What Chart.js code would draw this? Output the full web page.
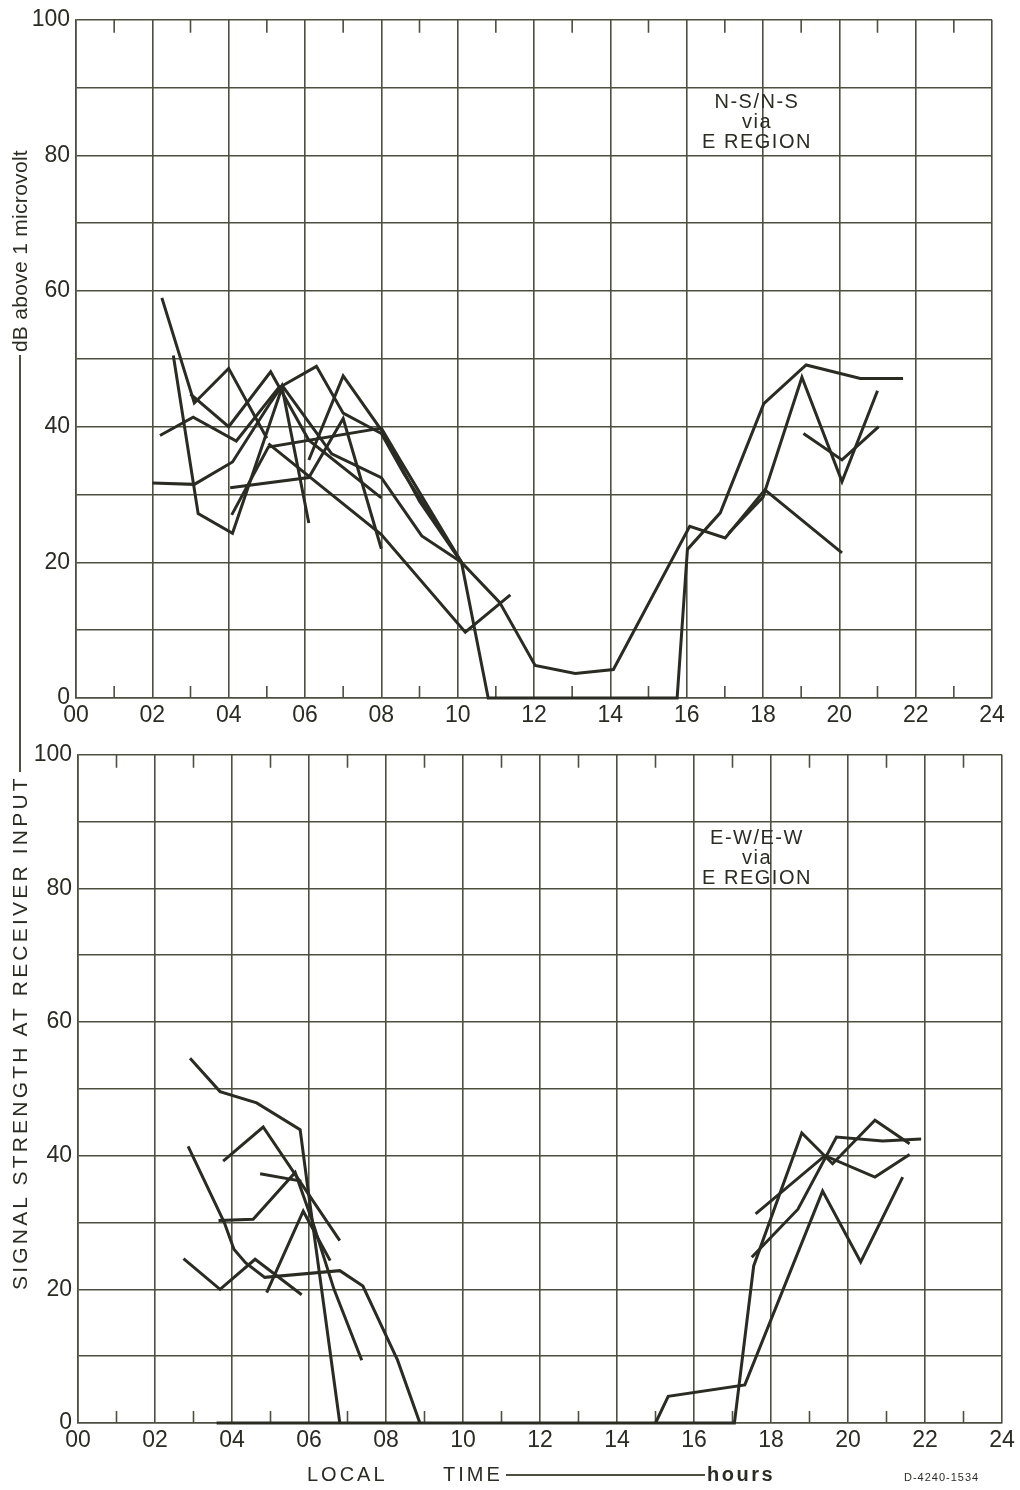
<!DOCTYPE html>
<html>
<head>
<meta charset="utf-8">
<script src="https://cdn.jsdelivr.net/npm/chart.js@4.4.1/dist/chart.umd.min.js"></script>
<style>
  body { margin: 0; background: #fff; width: 1020px; height: 1490px; position: relative; overflow: hidden;
         font-family: "Liberation Sans", Arial, sans-serif; color: #2b2c24; }
  canvas { position: absolute; left: 0; }
  .note { position: absolute; width: 200px; text-align: center; font-size: 20px; line-height: 20px; letter-spacing: 1.5px; }
  #ytitle { position: absolute; width: 1140px; height: 24px; left: -550px; top: 708px; transform: rotate(-90deg);
            display: flex; align-items: center; font-size: 21px; white-space: nowrap; }
  #ytitle .a { letter-spacing: 3.2px; }
  #ytitle .b { letter-spacing: 0.3px; }
  #ytitle i { flex: 1; border-top: 2px solid #4d5040; margin: 0 3px; }
  .xt { position: absolute; top: 1463px; font-size: 20px; line-height: 22px; white-space: nowrap; }
  #xline { position: absolute; left: 506px; top: 1474px; width: 199px; border-top: 2px solid #4d5040; }
  #code { position: absolute; left: 904px; top: 1471px; font-size: 11px; letter-spacing: 1px; }
</style>
</head>
<body>
<canvas id="ns" width="1020" height="735" style="top:0"></canvas>
<canvas id="ew" width="1020" height="755" style="top:735px"></canvas>

<div class="note" style="left:657px;top:91px">N-S/N-S<br>via<br>E REGION</div>
<div class="note" style="left:657px;top:827px">E-W/E-W<br>via<br>E REGION</div>

<div id="ytitle"><span class="a">SIGNAL STRENGTH AT RECEIVER INPUT</span><i></i><span class="b">dB above 1 microvolt</span></div>
<div class="xt" style="left:307px;letter-spacing:3px;word-spacing:48px">LOCAL TIME</div>
<div id="xline"></div>
<div class="xt" style="left:707px;letter-spacing:2.5px;font-weight:bold">hours</div>
<div id="code">D-4240-1534</div>

<script>
// N-S/N-S via E region, [local hour, dB]
const ns1 = [[2.25,59],[3.1,43.5],[4.0,48.6],[5.0,38.3]];
const ns2 = [[2.55,50.5],[3.2,27.2],[4.1,24.3],[5.4,45.8],[6.1,25.8]];
const ns3 = [[2.2,38.7],[3.07,41.4],[4.2,37.9],[5.3,45.7],[6.3,48.9],[7.0,42],[8.0,39],[8.6,33],[10.1,20],[10.8,0],
             [15.75,0],[16.02,21.9],[16.88,27.3],[18.02,43.4],[19.13,49.1],[20.55,47.1],[21.67,47.1]];
const ns4 = [[3.0,44.8],[4.0,40],[5.1,48.1],[6.1,38],[8.0,29.5]];
const ns5 = [[2.0,31.7],[3.1,31.5],[4.1,34.8],[5.1,43.6],[5.4,46.1],[6.7,36],[8.0,32.5],[9.06,23.9],[10.1,20]];
const ns6 = [[4.04,31],[6.1,32.5],[7.0,41.2],[8.0,22]];
const ns7 = [[4.08,27],[5.04,37],[8.0,39.8],[8.5,35],[10.1,20],[11.1,14.1],[12.03,4.8],[13.08,3.6],[14.08,4.2],
             [16.08,25.3],[17.01,23.6],[18.05,30.7],[20.07,21.4]];
const ns8 = [[5.04,37.5],[8.0,24.1],[10.2,9.7],[11.38,15.2]];
const ns9 = [[6.1,35.1],[7.0,47.5],[8.0,39.5],[9.0,29],[10.1,20]];
const ns10 = [[17.1,24.3],[18.0,29.6],[19.02,47.3],[20.07,31.9],[21.0,45.3]];
const ns11 = [[19.06,39],[20.07,35.1],[21.03,40]];

// E-W/E-W via E region
const ew1 = [[2.91,54.6],[3.69,49.6],[4.64,47.9],[5.77,43.9],[5.95,36],[6.8,0]];
const ew2 = [[2.86,41.4],[3.8,30],[4.05,26],[4.35,24],[4.85,21.8],[6.8,22.8],[7.4,20.5],[8.3,9.4],[8.88,0]];
const ew3 = [[3.77,39.2],[4.81,44.3],[6.8,27.3]];
const ew4 = [[4.73,37.3],[5.8,36.2]];
const ew5 = [[3.65,30.3],[4.55,30.5],[5.64,37.5],[6.1,30],[6.65,20],[7.37,9.4]];
const ew6 = [[4.9,19.5],[5.85,31.7],[6.55,24.3]];
const ew7 = [[2.74,24.6],[3.69,20],[4.6,24.5],[5.81,19.2]];
const ew8 = [[3.6,0],[17.05,0],[17.55,23.5],[18.8,43.4],[19.6,38.8],[20.7,45.3],[21.6,41.8]];
const ew9 = [[15.0,0],[15.33,4],[17.32,5.7],[19.34,34.7],[20.33,24.1],[21.42,36.8]];
const ew10 = [[17.6,31.3],[19.4,40],[20.7,36.8],[21.6,40.2]];
const ew11 = [[17.5,24.8],[18.7,32],[19.7,42.8],[20.9,42.2],[21.9,42.5]];

const gridColor = '#4d5040';
const inkColor = '#2a2b23';
const tickFont = { family: '"Liberation Sans", Arial, sans-serif', size: 23 };

// short ticks on the odd hours, top and bottom edge
const oddTicks = {
    id: 'oddTicks',
    beforeDatasetsDraw(chart) {
        const { ctx, chartArea: a, scales: { x } } = chart;
        ctx.save();
        ctx.strokeStyle = gridColor;
        ctx.lineWidth = 1.6;
        for (let h = 1; h < 24; h += 2) {
            const px = x.getPixelForValue(h);
            ctx.beginPath();
            ctx.moveTo(px, a.bottom); ctx.lineTo(px, a.bottom - 12);
            ctx.moveTo(px, a.top); ctx.lineTo(px, a.top + 13);
            ctx.stroke();
        }
        ctx.restore();
    }
};

function makePanel(id, traces, box) {
    return new Chart(document.getElementById(id), {
        type: 'line',
        data: {
            datasets: traces.map(t => ({
                data: t.map(p => ({ x: p[0], y: p[1] })),
                borderColor: inkColor,
                borderWidth: 3,
                pointRadius: 0,
                tension: 0,
                fill: false,
                clip: false
            }))
        },
        options: {
            responsive: false,
            animation: false,
            layout: { padding: { top: box.top, right: box.right, left: 0, bottom: 0 } },
            plugins: { legend: { display: false }, tooltip: { enabled: false } },
            scales: {
                x: {
                    type: 'linear', min: 0, max: 24,
                    afterFit: s => { s.height = box.xh; },
                    ticks: {
                        stepSize: 1, autoSkip: false, maxRotation: 0, padding: 4,
                        color: inkColor, font: tickFont,
                        callback: v => v % 2 === 0 ? String(v).padStart(2, '0') : ''
                    },
                    grid: {
                        color: c => (c.tick && c.tick.value % 2 === 0) ? gridColor : 'rgba(0,0,0,0)',
                        lineWidth: 1.6, drawTicks: false
                    },
                    border: { color: gridColor, width: 1.6 }
                },
                y: {
                    min: 0, max: 100,
                    afterFit: s => { s.width = box.yw; },
                    ticks: {
                        stepSize: 10, padding: 6, color: inkColor, font: tickFont,
                        callback: v => v % 20 === 0 ? v : ''
                    },
                    grid: { color: gridColor, lineWidth: 1.6, drawTicks: false },
                    border: { color: gridColor, width: 1.6 }
                }
            }
        },
        plugins: [oddTicks]
    });
}

makePanel('ns', [ns1, ns2, ns3, ns4, ns5, ns6, ns7, ns8, ns9, ns10, ns11], { top: 15, right: 28, xh: 37, yw: 76 });
makePanel('ew', [ew1, ew2, ew3, ew4, ew5, ew6, ew7, ew8, ew9, ew10, ew11], { top: 17, right: 18, xh: 67, yw: 78 });
</script>
</body>
</html>
